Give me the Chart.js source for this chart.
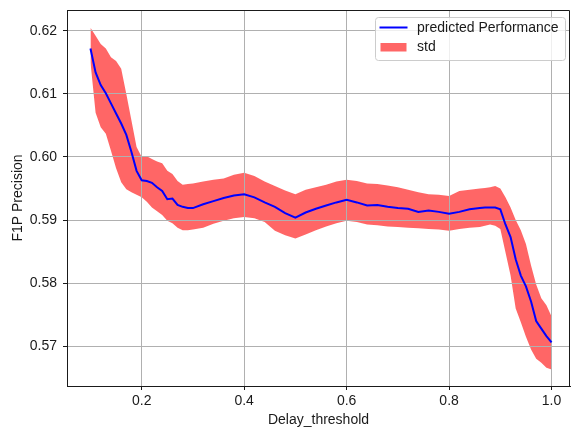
<!DOCTYPE html>
<html>
<head>
<meta charset="utf-8">
<script src="https://cdn.jsdelivr.net/npm/chart.js@4/dist/chart.umd.min.js"></script>
<style>
  html, body { margin: 0; padding: 0; background: #ffffff; }
  canvas { display: block; }
</style>
</head>
<body>
<canvas id="chart" width="572" height="430"></canvas>
<script>
// Delay threshold values at which the model was evaluated
const delayThreshold = [
  0.10, 0.11, 0.12, 0.13, 0.14, 0.15, 0.16, 0.17, 0.18, 0.19,
  0.20, 0.21, 0.22, 0.23, 0.24, 0.25, 0.26, 0.27, 0.28, 0.29, 0.30,
  0.32, 0.34, 0.36, 0.38, 0.40, 0.42, 0.44, 0.46, 0.48, 0.50,
  0.52, 0.54, 0.56, 0.58, 0.60, 0.62, 0.64, 0.66, 0.68, 0.70,
  0.72, 0.74, 0.76, 0.78, 0.80, 0.82, 0.84, 0.86, 0.87, 0.88,
  0.89, 0.90, 0.91, 0.92, 0.93, 0.94, 0.95, 0.96, 0.97, 0.98, 0.99, 1.00
];

// Mean predicted F1P precision
const predictedMean = [
  0.6172, 0.6134, 0.6114, 0.6101, 0.6085, 0.6069, 0.6053, 0.6035, 0.6008, 0.5978,
  0.5963, 0.5962, 0.5959, 0.5952, 0.5946, 0.5933, 0.5934, 0.5924, 0.5921, 0.5919, 0.5919,
  0.5925, 0.5930, 0.5935, 0.5939, 0.5941, 0.5936, 0.5928, 0.5921, 0.5911, 0.5904,
  0.5912, 0.5918, 0.5923, 0.5928, 0.5932, 0.5928, 0.5923, 0.5924, 0.5921, 0.5919,
  0.5918, 0.5913, 0.5915, 0.5913, 0.5910, 0.5913, 0.5917, 0.5919, 0.5920, 0.5920,
  0.5920, 0.5917, 0.5893, 0.5873, 0.5838, 0.5812, 0.5795, 0.5771, 0.5740, 0.5728, 0.5716, 0.5706
];

// Mean + one standard deviation
const stdUpper = [
  0.6205, 0.6192, 0.6179, 0.6172, 0.6158, 0.6152, 0.6140, 0.6100, 0.6058, 0.6016,
  0.6000, 0.6001, 0.5997, 0.5993, 0.5990, 0.5978, 0.5973, 0.5962, 0.5956, 0.5957, 0.5958,
  0.5961, 0.5964, 0.5966, 0.5972, 0.5975, 0.5970, 0.5961, 0.5954, 0.5947, 0.5941,
  0.5948, 0.5952, 0.5956, 0.5961, 0.5964, 0.5962, 0.5958, 0.5957, 0.5955, 0.5952,
  0.5948, 0.5944, 0.5941, 0.5940, 0.5938, 0.5946, 0.5948, 0.5950, 0.5951, 0.5952,
  0.5954, 0.5950, 0.5936, 0.5920, 0.5900, 0.5884, 0.5862, 0.5828, 0.5798, 0.5776, 0.5765, 0.5747
];

// Mean - one standard deviation
const stdLower = [
  0.6150, 0.6070, 0.6047, 0.6037, 0.6010, 0.5982, 0.5960, 0.5949, 0.5944, 0.5940,
  0.5936, 0.5929, 0.5920, 0.5914, 0.5908, 0.5899, 0.5895, 0.5888, 0.5884, 0.5884, 0.5885,
  0.5888, 0.5894, 0.5899, 0.5903, 0.5905, 0.5903, 0.5897, 0.5883, 0.5876, 0.5871,
  0.5877, 0.5884, 0.5890, 0.5895, 0.5899, 0.5897, 0.5893, 0.5892, 0.5890, 0.5889,
  0.5888, 0.5887, 0.5886, 0.5885, 0.5883, 0.5886, 0.5888, 0.5889, 0.5891, 0.5893,
  0.5891, 0.5886, 0.5849, 0.5812, 0.5760, 0.5738, 0.5715, 0.5695, 0.5680, 0.5674, 0.5666, 0.5663
];

const xTickValues = [0.2, 0.4, 0.6, 0.8, 1.0];
const yTickValues = [0.57, 0.58, 0.59, 0.60, 0.61, 0.62];

const toPoints = ys => delayThreshold.map((x, i) => ({ x: x, y: ys[i] }));

const FONT = '"Liberation Sans", Arial, Helvetica, sans-serif';
Chart.defaults.font.family = FONT;
Chart.defaults.font.size = 14;
Chart.defaults.color = '#1a1a1a';

// Closes the frame on the top and right sides of the plot
const frameBox = {
  id: 'frameBox',
  afterDatasetsDraw(chart) {
    const { ctx, chartArea: a } = chart;
    ctx.save();
    ctx.strokeStyle = '#1a1a1a';
    ctx.lineWidth = 1;
    ctx.beginPath();
    ctx.moveTo(a.left, a.top + 0.5);
    ctx.lineTo(a.right - 0.5, a.top + 0.5);
    ctx.lineTo(a.right - 0.5, a.bottom);
    ctx.stroke();
    ctx.restore();
  }
};

// Legend box in the upper-right corner of the plot
const insetLegend = {
  id: 'insetLegend',
  afterDraw(chart) {
    const { ctx, chartArea: a } = chart;
    const ds = chart.data.datasets;
    const w = 190, h = 43;
    const x = Math.round(a.right - 5 - w) + 0.5;
    const y = Math.round(a.top + 7) + 0.5;
    ctx.save();
    ctx.beginPath();
    ctx.roundRect(x, y, w, h, 3);
    ctx.fillStyle = 'rgba(255,255,255,0.8)';
    ctx.fill();
    ctx.strokeStyle = '#cccccc';
    ctx.lineWidth = 1;
    ctx.stroke();

    // line entry
    const lineDs = ds[2];
    ctx.strokeStyle = lineDs.borderColor;
    ctx.lineWidth = lineDs.borderWidth;
    ctx.beginPath();
    ctx.moveTo(x + 4, y + 10);
    ctx.lineTo(x + 32, y + 10);
    ctx.stroke();

    // band entry
    const bandDs = ds[0];
    ctx.fillStyle = bandDs.backgroundColor;
    ctx.fillRect(x + 5, y + 25.5, 26, 8.5);

    ctx.fillStyle = '#1a1a1a';
    ctx.font = '14px ' + FONT;
    ctx.textBaseline = 'middle';
    ctx.textAlign = 'left';
    ctx.fillText(lineDs.label, x + 41.5, y + 10.5);
    ctx.fillText(bandDs.label, x + 41.5, y + 30);
    ctx.restore();
  }
};

new Chart(document.getElementById('chart'), {
  type: 'line',
  data: {
    datasets: [
      {
        label: 'std',
        data: toPoints(stdUpper),
        borderWidth: 0,
        borderColor: 'rgba(0,0,0,0)',
        backgroundColor: 'rgba(255,0,0,0.6)',
        pointRadius: 0,
        fill: '+1',
        tension: 0
      },
      {
        label: 'lower',
        data: toPoints(stdLower),
        borderWidth: 0,
        borderColor: 'rgba(0,0,0,0)',
        pointRadius: 0,
        fill: false,
        tension: 0
      },
      {
        label: 'predicted Performance',
        data: toPoints(predictedMean),
        borderColor: '#0000ff',
        borderWidth: 2,
        pointRadius: 0,
        fill: false,
        tension: 0
      }
    ]
  },
  options: {
    responsive: false,
    animation: false,
    events: [],
    layout: { padding: { top: 10, right: 2, bottom: 0, left: 0 } },
    plugins: {
      legend: { display: false },
      tooltip: { enabled: false },
      filler: { drawTime: 'beforeDraw' }
    },
    scales: {
      x: {
        type: 'linear',
        min: 0.0542,
        max: 1.036,
        afterBuildTicks: s => { s.ticks = xTickValues.map(v => ({ value: v })); },
        afterFit: s => { s.height = 44; s.paddingLeft = 0; s.paddingRight = 0; },
        ticks: {
          padding: 3,
          maxRotation: 0,
          autoSkip: false,
          callback: v => v.toFixed(1)
        },
        grid: {
          color: '#b0b0b0',
          lineWidth: 1,
          tickLength: 4,
          tickColor: '#1a1a1a'
        },
        border: { display: true, color: '#1a1a1a', width: 1 },
        title: {
          display: true,
          text: 'Delay_threshold',
          padding: { top: 0, bottom: 1 }
        }
      },
      y: {
        type: 'linear',
        min: 0.5637,
        max: 0.6233,
        afterBuildTicks: s => { s.ticks = yTickValues.map(v => ({ value: v })); },
        afterFit: s => { s.width = 67; s.paddingTop = 0; s.paddingBottom = 0; },
        ticks: {
          padding: 6,
          autoSkip: false,
          callback: v => v.toFixed(2)
        },
        grid: {
          color: '#b0b0b0',
          lineWidth: 1,
          tickLength: 4,
          tickColor: '#1a1a1a'
        },
        border: { display: true, color: '#1a1a1a', width: 1 },
        title: {
          display: true,
          text: 'F1P Precision',
          padding: { top: 10, bottom: 0 }
        }
      }
    }
  },
  plugins: [frameBox, insetLegend]
});
</script>
</body>
</html>
